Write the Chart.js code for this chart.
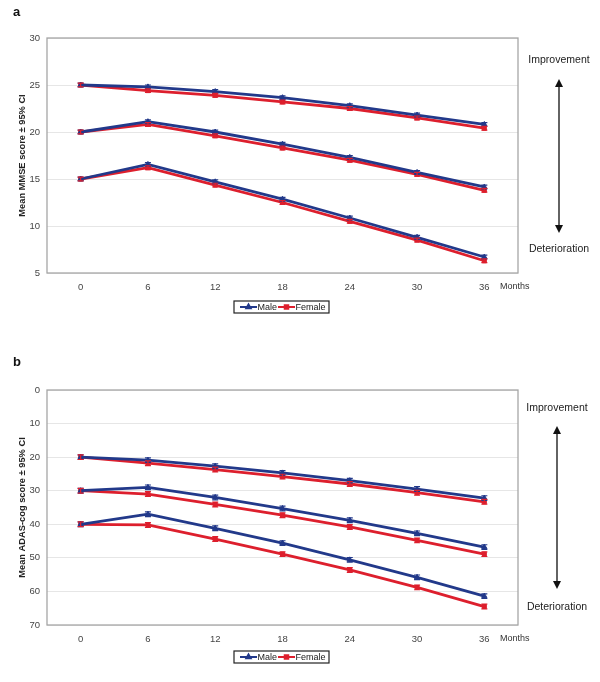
<!DOCTYPE html>
<html><head><meta charset="utf-8">
<script src="https://cdn.jsdelivr.net/npm/chart.js@4"></script>
<style>
body{margin:0;background:#fff;width:600px;height:682px;overflow:hidden;position:relative}
.p{position:absolute;left:0;width:600px}
#wa{top:0;height:330px}
#wb{top:330px;height:352px}
canvas{display:block}
</style></head><body>
<div class="p" id="wa"><canvas id="ca" width="600" height="330"></canvas></div>
<div class="p" id="wb"><canvas id="cb" width="600" height="352"></canvas></div>
<script>
// ---- data ----
const months = ['0','6','12','18','24','30','36'];
const seriesNames = ['Male','Female'];

// Panel a: MMSE (baseline 25, 20, 15)
const mmseMale25   = [25, 24.8, 24.3, 23.65, 22.8, 21.8, 20.8];
const mmseFemale25 = [25, 24.4, 23.9, 23.2, 22.5, 21.5, 20.4];
const mmseMale20   = [20, 21.1, 20.0, 18.7, 17.3, 15.7, 14.15];
const mmseFemale20 = [20, 20.8, 19.6, 18.3, 17.0, 15.5, 13.8];
const mmseMale15   = [15, 16.55, 14.7, 12.85, 10.85, 8.8, 6.7];
const mmseFemale15 = [15, 16.2, 14.35, 12.5, 10.5, 8.5, 6.3];
const mmseCI       = [0.2, 0.2, 0.2, 0.2, 0.2, 0.2, 0.2];
const mmseTicks    = [5, 10, 15, 20, 25, 30];

// Panel b: ADAS-cog (baseline 20, 30, 40)
const adasMale20   = [20, 20.9, 22.7, 24.7, 27.0, 29.5, 32.2];
const adasFemale20 = [20, 21.8, 23.7, 25.8, 28.0, 30.6, 33.3];
const adasMale30   = [30, 29.0, 32.0, 35.3, 38.8, 42.7, 46.8];
const adasFemale30 = [30, 31.0, 34.1, 37.3, 40.8, 44.8, 48.9];
const adasMale40   = [40, 37.0, 41.2, 45.6, 50.6, 55.8, 61.4];
const adasFemale40 = [40, 40.2, 44.4, 48.9, 53.6, 58.8, 64.5];
const adasCI       = [0.7, 0.7, 0.7, 0.7, 0.7, 0.7, 0.7];
const adasTicks    = [0, 10, 20, 30, 40, 50, 60, 70];

// ---- styling ----
const BLUE = '#22398a';
const RED  = '#dd1f2d';
const FONT = "'Liberation Sans', Arial, sans-serif";

function ds(label, data, sex, ci) {
  const male = sex === 'Male';
  return {
    label: label, data: data, ci: ci, sex: sex,
    borderColor: male ? BLUE : RED,
    backgroundColor: male ? BLUE : RED,
    borderWidth: 2.8,
    pointStyle: male ? 'triangle' : 'rect',
    pointRadius: male ? 3 : 2.8,
    pointBorderWidth: 1,
    tension: 0
  };
}

const extras = {
  id: 'extras',
  beforeDatasetsDraw(chart) {
    const ctx = chart.ctx, a = chart.chartArea;
    ctx.save();
    ctx.strokeStyle = '#a6a6a6';
    ctx.lineWidth = 1.3;
    ctx.strokeRect(a.left, a.top, a.right - a.left, a.bottom - a.top);
    ctx.restore();
  },
  afterDatasetsDraw(chart) {
    const ctx = chart.ctx, y = chart.scales.y;
    ctx.save();
    chart.data.datasets.forEach((d, i) => {
      const meta = chart.getDatasetMeta(i);
      ctx.strokeStyle = d.borderColor;
      ctx.lineWidth = 1.2;
      meta.data.forEach((pt, j) => {
        const v = d.data[j], c = d.ci[j];
        const y1 = y.getPixelForValue(v - c), y2 = y.getPixelForValue(v + c);
        ctx.beginPath();
        ctx.moveTo(pt.x, y1); ctx.lineTo(pt.x, y2);
        ctx.moveTo(pt.x - 3, y1); ctx.lineTo(pt.x + 3, y1);
        ctx.moveTo(pt.x - 3, y2); ctx.lineTo(pt.x + 3, y2);
        ctx.stroke();
      });
    });
    ctx.restore();
  },
  afterDraw(chart) {
    const ctx = chart.ctx, a = chart.chartArea;
    const o = chart.options.plugins.extras;
    ctx.save();
    // panel letter
    ctx.fillStyle = '#111';
    ctx.font = 'bold 13px ' + FONT;
    ctx.textBaseline = 'middle';
    ctx.textAlign = 'left';
    ctx.fillText(o.letter, 13, o.letterY);
    // Months
    ctx.fillStyle = '#333';
    ctx.font = '9px ' + FONT;
    ctx.fillText('Months', a.right - 18, a.bottom + 14);
    // legend
    const lx = 234, ly = a.bottom + o.legendDy, lw = 95, lh = 12;
    ctx.fillStyle = '#fff';
    ctx.fillRect(lx, ly, lw, lh);
    ctx.strokeStyle = '#222';
    ctx.lineWidth = 1.2;
    ctx.strokeRect(lx, ly, lw, lh);
    const cy = ly + lh / 2;
    const items = [[seriesNames[0], BLUE, 'triangle', 240], [seriesNames[1], RED, 'rect', 278]];
    items.forEach(([name, col, ps, x0]) => {
      ctx.strokeStyle = col; ctx.fillStyle = col; ctx.lineWidth = 2;
      ctx.beginPath(); ctx.moveTo(x0, cy); ctx.lineTo(x0 + 17, cy); ctx.stroke();
      Chart.helpers.drawPoint(ctx, {pointStyle: ps, radius: 2.5, borderWidth: 1, rotation: 0}, x0 + 8.5, cy);
      ctx.fillStyle = '#222';
      ctx.font = '9px ' + FONT;
      ctx.textAlign = 'left';
      ctx.textBaseline = 'middle';
      ctx.fillText(name, x0 + 17.5, cy + 0.5);
    });
    // Improvement / Deterioration arrow
    const ax = o.arrowX;
    ctx.fillStyle = '#222';
    ctx.font = '10.5px ' + FONT;
    ctx.textAlign = 'center';
    ctx.textBaseline = 'middle';
    ctx.fillText('Improvement', ax, o.impY);
    ctx.fillText('Deterioration', ax, o.detY);
    ctx.strokeStyle = '#222';
    ctx.lineWidth = 1.4;
    ctx.beginPath(); ctx.moveTo(ax, o.arTop + 4); ctx.lineTo(ax, o.arBot - 4); ctx.stroke();
    ctx.fillStyle = '#111';
    ctx.beginPath(); ctx.moveTo(ax, o.arTop); ctx.lineTo(ax - 4, o.arTop + 8); ctx.lineTo(ax + 4, o.arTop + 8); ctx.closePath(); ctx.fill();
    ctx.beginPath(); ctx.moveTo(ax, o.arBot); ctx.lineTo(ax - 4, o.arBot - 8); ctx.lineTo(ax + 4, o.arBot - 8); ctx.closePath(); ctx.fill();
    ctx.restore();
  }
};

function makeChart(id, datasets, yOpts, title, pad, ex) {
  return new Chart(document.getElementById(id), {
    type: 'line',
    data: { labels: months, datasets: datasets },
    plugins: [extras],
    options: {
      responsive: false,
      animation: false,
      devicePixelRatio: 1,
      layout: { padding: pad },
      plugins: { legend: { display: false }, tooltip: { enabled: false }, extras: ex },
      scales: {
        x: {
          type: 'category',
          offset: true,
          grid: { display: false, drawTicks: false },
          border: { display: false },
          ticks: { color: '#444', font: { family: FONT, size: 9.5 }, padding: 9, maxRotation: 0 },
          afterFit: s => { s.height = 24; }
        },
        y: Object.assign({
          grid: { color: '#e6e6e6', lineWidth: 1, drawTicks: false },
          border: { display: false },
          title: { display: true, text: title, color: '#222', font: { family: FONT, size: 9.3, weight: 'bold' }, padding: { top: 17, bottom: 0 } },
          afterFit: s => { s.width = 47; }
        }, yOpts)
      }
    }
  });
}

makeChart('ca', [
  ds('Male', mmseMale25, 'Male', mmseCI),
  ds('Male', mmseMale20, 'Male', mmseCI),
  ds('Male', mmseMale15, 'Male', mmseCI),
  ds('Female', mmseFemale25, 'Female', mmseCI),
  ds('Female', mmseFemale20, 'Female', mmseCI),
  ds('Female', mmseFemale15, 'Female', mmseCI)
], {
  min: 5, max: 30,
  afterBuildTicks: s => { s.ticks = mmseTicks.map(v => ({ value: v })); },
  ticks: { color: '#444', font: { family: FONT, size: 9.5 }, padding: 7 }
}, 'Mean MMSE score \u00b1 95% CI',
{ left: 0, top: 38, right: 82, bottom: 33 },
{ letter: 'a', letterY: 12, legendDy: 28, arrowX: 559, impY: 60, detY: 249, arTop: 79, arBot: 233 });

makeChart('cb', [
  ds('Male', adasMale20, 'Male', adasCI),
  ds('Male', adasMale30, 'Male', adasCI),
  ds('Male', adasMale40, 'Male', adasCI),
  ds('Female', adasFemale20, 'Female', adasCI),
  ds('Female', adasFemale30, 'Female', adasCI),
  ds('Female', adasFemale40, 'Female', adasCI)
], {
  min: 0, max: 70, reverse: true,
  afterBuildTicks: s => { s.ticks = adasTicks.map(v => ({ value: v })); },
  ticks: { color: '#444', font: { family: FONT, size: 9.5 }, padding: 7 }
}, 'Mean ADAS-cog score \u00b1 95% CI',
{ left: 0, top: 60, right: 82, bottom: 33 },
{ letter: 'b', letterY: 32, legendDy: 26, arrowX: 557, impY: 78, detY: 277, arTop: 96, arBot: 259 });
</script>
</body></html>
